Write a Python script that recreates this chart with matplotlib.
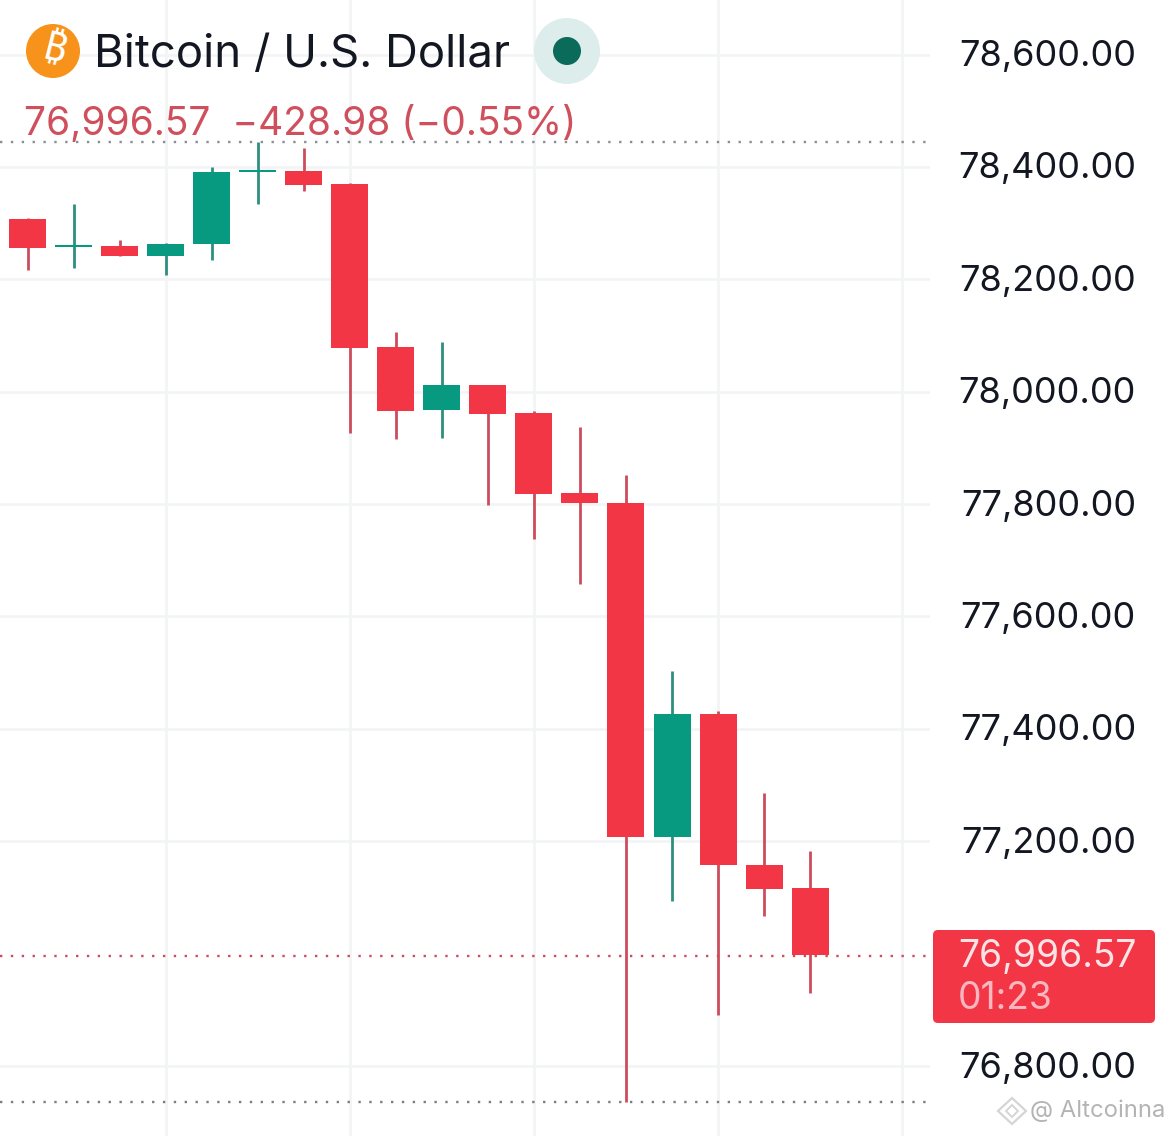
import matplotlib
matplotlib.use("Agg")
import matplotlib.pyplot as plt
from matplotlib import font_manager as fm
from matplotlib.ft2font import FT2Font
from matplotlib.patches import Ellipse, FancyBboxPatch, Polygon

plt.rcParams['font.family'] = ['Inter', 'DejaVu Sans']

opens  = [78307, 78257, 78259, 78241, 78263, 78391, 78393, 78369, 78079, 77967, 78012, 77962, 77820, 77802, 77207, 77426, 77158, 77117]
closes = [78256, 78261, 78241, 78263, 78391, 78394, 78368, 78078, 77966, 78012, 77960, 77818, 77802, 77207, 77426, 77158, 77115, 76997]
highs  = [78309, 78334, 78270, 78264, 78400, 78444, 78433, 78371, 78106, 78088, 78012, 77966, 77937, 77852, 77503, 77432, 77286, 77183]
lows   = [78216, 78220, 78241, 78208, 78234, 78334, 78357, 77926, 77916, 77918, 77798, 77738, 77658, 76736, 77094, 76891, 77067, 76930]
y_ticks = [78600, 78400, 78200, 78000, 77800, 77600, 77400, 77200, 76800]
x_grid = [3, 7, 11, 15, 19]
last_price = 76996.57
session_high = 78444
session_low = 76736

W, H = 1170, 1136
UP, DOWN = '#089981', '#F23645'
UP_W, DOWN_W = '#2E8F7E', '#CC4C5C'
GRID = '#F3F4F6'
DOTS = (0, (1, 3.6))

fig = plt.figure(figsize=(W/100, H/100), dpi=100, facecolor='white')
ax = fig.add_axes([0, 0, 930/W, 1])
ax.set_xlim(-27.6/46.03, (930-27.6)/46.03)
ax.set_ylim(76675.4, 78697)
for s in ax.spines.values():
    s.set_visible(False)
ax.set_xticks([])
ax.set_yticks([])

for v in y_ticks:
    ax.axhline(v, color=GRID, lw=2, zorder=1)
for v in x_grid:
    ax.axvline(v, color=GRID, lw=2, zorder=1)

ax.axhline(session_high, color='#8A8D94', lw=1.7, ls=DOTS, zorder=2)
ax.axhline(session_low, color='#7A7D84', lw=1.7, ls=DOTS, zorder=2)
ax.axhline(last_price, color='#CC4C5C', lw=1.7, ls=DOTS, zorder=2)

for i, (o, c, h, l) in enumerate(zip(opens, closes, highs, lows)):
    up = c >= o
    ax.vlines(i, l, h, color=UP_W if up else DOWN_W, lw=2.0, zorder=3)
    ax.bar(i, abs(c-o), bottom=min(o, c), width=37/46.03, color=UP if up else DOWN, lw=0, zorder=4)

ov = fig.add_axes([0, 0, 1, 1], facecolor='none')
ov.set_xlim(0, W)
ov.set_ylim(H, 0)
ov.axis('off')

for v in y_ticks:
    y = (78697 - v) * 0.562
    ov.text(1136, y + 2, f"{v:,.2f}", ha='right', va='center', fontsize=26, color='#131722')

# Coin icon: use the bitcoin sign from the first installed family that really has it.
coin_family, coin_text = None, 'B'
for fam in ['Noto Sans', 'Roboto', 'Open Sans', 'Lato', 'Liberation Sans', 'DejaVu Sans', 'Noto Sans CJK SC']:
    try:
        path = fm.findfont(fm.FontProperties(family=fam, weight='bold'), fallback_to_default=False)
        if FT2Font(path).get_char_index(0x20BF):
            coin_family, coin_text = fam, '\u20bf'
            break
    except Exception:
        pass
ov.add_patch(Ellipse((53, 51), 54, 54, color='#F7931A', lw=0))
ov.text(54, 51, coin_text, ha='center', va='center', fontsize=29, fontweight='bold',
        color='white', rotation=-14, family=coin_family or 'Inter')

ov.text(94, 55, 'Bitcoin / U.S. Dollar', ha='left', va='center', fontsize=32.8, color='#131722')
ov.add_patch(Ellipse((567, 51), 66, 66, color='#DDEDEB', lw=0))
ov.add_patch(Ellipse((567, 51), 28, 28, color='#0B6B5A', lw=0))
ov.text(24, 124.5, '76,996.57  \u2212428.98 (\u22120.55%)', ha='left', va='center', fontsize=28, color='#CF4F5C')

ov.add_patch(FancyBboxPatch((933, 930), 222, 93, boxstyle='round,pad=0,rounding_size=5', fc=DOWN, ec='none'))
ov.text(958, 957.5, f"{last_price:,.2f}", ha='left', va='center', fontsize=26.8, color='#FBE3E6')
ov.text(958, 999, '01:23', ha='left', va='center', fontsize=26.8, color='#FAB7BF')

ov.add_patch(Polygon([(1012, 1098), (1026, 1111), (1012, 1124), (998, 1111)], closed=True, fc='none', ec='#D5D5D5', lw=1.6))
ov.add_patch(Polygon([(1012, 1105), (1018, 1111), (1012, 1117), (1006, 1111)], closed=True, fc='none', ec='#D5D5D5', lw=1.4))
ov.text(1030, 1111, '@ Altcoinna', ha='left', va='center', fontsize=17.2, color='#B4B4B4')

fig.savefig('out.png', dpi=100, facecolor='white')
